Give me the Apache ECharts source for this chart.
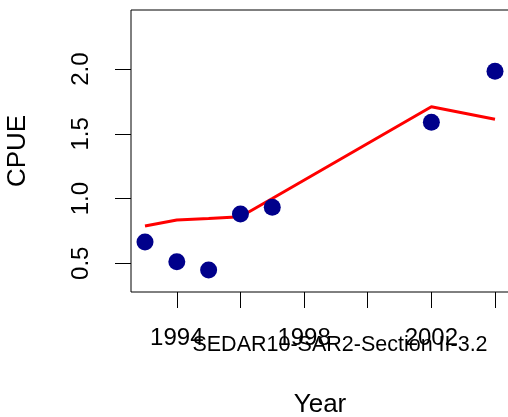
<!DOCTYPE html>
<html>
<head>
<meta charset="utf-8">
<script src="https://cdn.jsdelivr.net/npm/echarts@6/dist/echarts.min.js"></script>
<style>
html,body{margin:0;padding:0;background:#fff;}
#chart{width:508px;height:417px;}
</style>
</head>
<body>
<div id="chart"></div>
<script>
var years = [1993, 1994, 1995, 1996, 1997, 2002, 2004];
var cpueObs = [0.665, 0.512, 0.448, 0.881, 0.933, 1.59, 1.984];
var cpueFit = [0.788, 0.835, 0.845, 0.86, 1.0, 1.71, 1.613];
var xTicks = [1994, 1996, 1998, 2000, 2002, 2004];
var xLabels = [1994, 1998, 2002];
var yTicks = [0.5, 1.0, 1.5, 2.0];
var subtitle = 'SEDAR10-SAR2-Section II-3.2';

var FONT = 'Liberation Sans, Arial, Helvetica, sans-serif';
var chart = echarts.init(document.getElementById('chart'), null, {renderer: 'canvas'});
chart.setOption({
  animation: false,
  backgroundColor: '#fff',
  grid: {left: 131, top: 10, width: 378, height: 282, show: true, borderColor: '#000', borderWidth: 1, backgroundColor: 'transparent', outerBoundsMode: 'none', containLabel: false},
  xAxis: {
    type: 'value', min: 1992.56, max: 2004.44,
    name: 'Year', nameLocation: 'middle', nameGap: 100,
    nameTextStyle: {fontFamily: FONT, fontSize: 26, color: '#000'},
    axisLine: {show: false},
    splitLine: {show: false},
    axisTick: {show: true, length: 16, inside: false, customValues: xTicks, lineStyle: {color: '#000', width: 1}},
    axisLabel: {customValues: xLabels, margin: 34, fontFamily: FONT, fontSize: 24, color: '#000', formatter: function (v) { return String(v); }}
  },
  yAxis: {
    type: 'value', min: 0.278, max: 2.457,
    name: 'CPUE', nameLocation: 'middle', nameGap: 100, nameRotate: 90,
    nameTextStyle: {fontFamily: FONT, fontSize: 26, color: '#000'},
    axisLine: {show: false},
    splitLine: {show: false},
    axisTick: {show: true, length: 16, inside: false, customValues: yTicks, lineStyle: {color: '#000', width: 1}},
    axisLabel: {customValues: yTicks, rotate: 90, margin: 38, fontFamily: FONT, fontSize: 24, color: '#000', formatter: function (v) { return v.toFixed(1); }}
  },
  graphic: [{
    type: 'text', x: 340, y: 345,
    style: {text: subtitle, fontFamily: FONT, fontSize: 21.5, fill: '#000', textAlign: 'center', textVerticalAlign: 'middle'}
  }],
  series: [
    {type: 'line', data: years.map(function (y, i) { return [y, cpueFit[i]]; }), showSymbol: false, symbol: 'none', lineStyle: {color: '#ff0000', width: 3}, z: 2},
    {type: 'scatter', data: years.map(function (y, i) { return [y, cpueObs[i]]; }), symbol: 'circle', symbolSize: 17, itemStyle: {color: '#00008b', opacity: 1}, z: 3}
  ]
});
</script>
</body>
</html>
